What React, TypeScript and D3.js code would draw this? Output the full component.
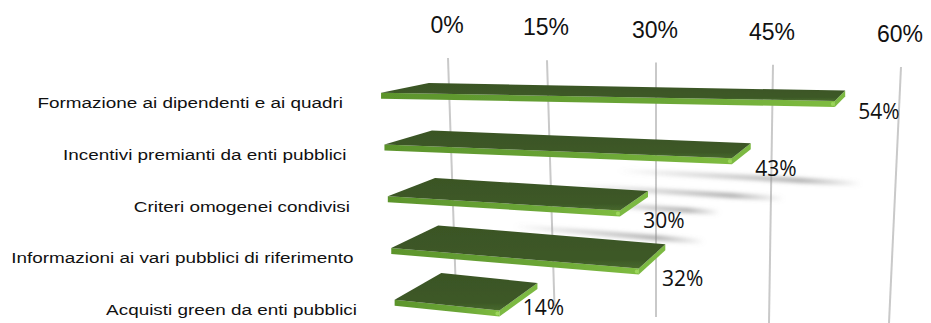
import React from 'react';
import * as d3 from 'd3';

const categories = [
  'Formazione ai dipendenti e ai quadri',
  'Incentivi premianti da enti pubblici',
  'Criteri omogenei condivisi',
  'Informazioni ai vari pubblici di riferimento',
  'Acquisti green da enti pubblici',
];
const values = [54, 43, 30, 32, 14];
const valueLabels = ['54%', '43%', '30%', '32%', '14%'];
const ticks = [0, 15, 30, 45, 60];
const tickLabels = ['0%', '15%', '30%', '45%', '60%'];
// soft grey streaks (row position, value range)
const shadowBands = [
  { t: 1.6, from: 26, to: 56 },
  { t: 1.95, from: 20, to: 47 },
  { t: 2.28, from: 22, to: 39 },
  { t: 2.85, from: 11, to: 37 },
];

const W = 931;
const H = 323;

// perspective "projection" built from scales
const gridTopX = d3.scaleLinear().domain(ticks).range([448, 547, 656, 773, 901]);
const gridBotX = d3.scaleLinear().domain(ticks).range([457, 555, 656, 769, 889]);
const gridTopY = d3.scaleLinear().domain([0, 60]).range([58, 67]);
const gridEndY = d3.scaleLinear().domain(ticks).range([277, 306, 317, 323, 323]);
const rowY = d3.scaleLinear().domain([0, 4]).range([83, 273]);
const rowSlope = d3.scaleLinear().domain([0, 4]).range([0.019, 0.109]);
const rowOffset = d3.scaleLinear().domain([0, 4]).range([-20, -14]);
const labelRight = d3.scaleLinear().domain([0, 4]).range([343, 357]);
const VP: [number, number] = [960, -24];
const DEPTH = 1.09;
const TH = 6;

function gx(v: number, y: number) {
  const yt = gridTopY(v);
  const f = (y - yt) / (H - yt);
  return gridTopX(v) + f * (gridBotX(v) - gridTopX(v));
}
function backPt(v: number, t: number): [number, number] {
  const y0 = rowY(t);
  const y = y0 + rowSlope(t) * (gx(v, y0) - gx(0, y0));
  return [gx(v, y) + rowOffset(t) + 0.3 * v, y];
}
function frontPt(p: [number, number]): [number, number] {
  return [VP[0] + DEPTH * (p[0] - VP[0]), VP[1] + DEPTH * (p[1] - VP[1])];
}
const down = (p: [number, number], d: number): [number, number] => [p[0], p[1] + d];
const poly = (pts: [number, number][]) => pts.map((p) => p.join(',')).join(' ');

export default function App() {
  return (
    <svg
      width={W}
      height={H}
      viewBox={`0 0 ${W} ${H}`}
      style={{ position: 'absolute', left: 0, top: 0, background: '#fff' }}
    >
      <defs>
        <filter id="soft" x="-5%" y="-20%" width="110%" height="140%">
          <feGaussianBlur stdDeviation="0.45" />
        </filter>
        <filter id="shadowBlur" x="-10%" y="-200%" width="120%" height="500%">
          <feGaussianBlur stdDeviation="2.2" />
        </filter>
        <linearGradient id="shadowGrad" x1="0" x2="1" y1="0" y2="0">
          <stop offset="0" stopColor="#8a8a8a" stopOpacity="0" />
          <stop offset="0.75" stopColor="#8a8a8a" stopOpacity="0.85" />
          <stop offset="1" stopColor="#8a8a8a" stopOpacity="0" />
        </linearGradient>
        <linearGradient id="frontGrad" x1="0" x2="1" y1="0" y2="0">
          <stop offset="0" stopColor="#5c942c" />
          <stop offset="0.6" stopColor="#6aa536" />
          <stop offset="1" stopColor="#7fbc40" />
        </linearGradient>
        <linearGradient id="topGrad" x1="0" x2="0" y1="0" y2="1">
          <stop offset="0" stopColor="#3a5424" />
          <stop offset="0.8" stopColor="#3d5927" />
          <stop offset="1" stopColor="#48692c" />
        </linearGradient>
      </defs>

      {/* gridlines */}
      {ticks.map((v) => {
        const y1 = gridTopY(v);
        const y2 = gridEndY(v);
        return (
          <line
            key={'g' + v}
            x1={gx(v, y1)}
            y1={y1}
            x2={gx(v, y2)}
            y2={y2}
            stroke="#c9c9c9"
            strokeWidth={2}
          />
        );
      })}

      {/* tick labels */}
      {ticks.map((v, i) => (
        <text
          key={'t' + v}
          x={gridTopX(v) - 1}
          y={gridTopY(v) - 33}
          textAnchor="middle"
          dominantBaseline="central"
          fontFamily="'Liberation Sans', Arial, sans-serif"
          fontSize={23}
          fill="#111"
        >
          {tickLabels[i]}
        </text>
      ))}

      {/* shadows */}
      {shadowBands.map((s, i) => {
        const a = backPt(s.from, s.t);
        const b = backPt(s.to, s.t);
        return (
          <polygon
            key={'s' + i}
            points={poly([a, b, down(b, 4), down(a, 4)])}
            fill="url(#shadowGrad)"
            filter="url(#shadowBlur)"
          />
        );
      })}

      {/* bars */}
      {values.map((v, i) => {
        const BL = backPt(0, i);
        const BR = backPt(v, i);
        const FL = frontPt(BL);
        const FR = frontPt(BR);
        return (
          <g key={'b' + i} filter="url(#soft)">
            <polygon points={poly([BR, down(BR, TH), down(FR, TH), FR])} fill="#7cb942" />
            <polygon points={poly([FL, FR, down(FR, TH), down(FL, TH)])} fill="url(#frontGrad)" />
            <polygon points={poly([BL, BR, FR, FL])} fill="url(#topGrad)" />
            <circle cx={FR[0] - 2} cy={FR[1] + TH / 2} r={2} fill="#9bd65a" />
          </g>
        );
      })}

      {/* category labels */}
      {categories.map((c, i) => {
        const FL = frontPt(backPt(0, i));
        return (
          <text
            key={'c' + i}
            transform={`translate(${labelRight(i)},${FL[1] + 10}) scale(1.22,1)`}
            textAnchor="end"
            dominantBaseline="central"
            fontFamily="'Liberation Sans', Arial, sans-serif"
            fontSize={15.5}
            fill="#111"
          >
            {c}
          </text>
        );
      })}

      {/* value labels */}
      {values.map((v, i) => {
        const FR = frontPt(backPt(v, i));
        return (
          <text
            key={'v' + i}
            x={FR[0] + 44}
            y={Math.min(FR[1] + 10, 307)}
            textAnchor="middle"
            dominantBaseline="central"
            fontFamily="'Open Sans', sans-serif"
            fontSize={21}
            fill="#111"
          >
            {valueLabels[i]}
          </text>
        );
      })}
    </svg>
  );
}
